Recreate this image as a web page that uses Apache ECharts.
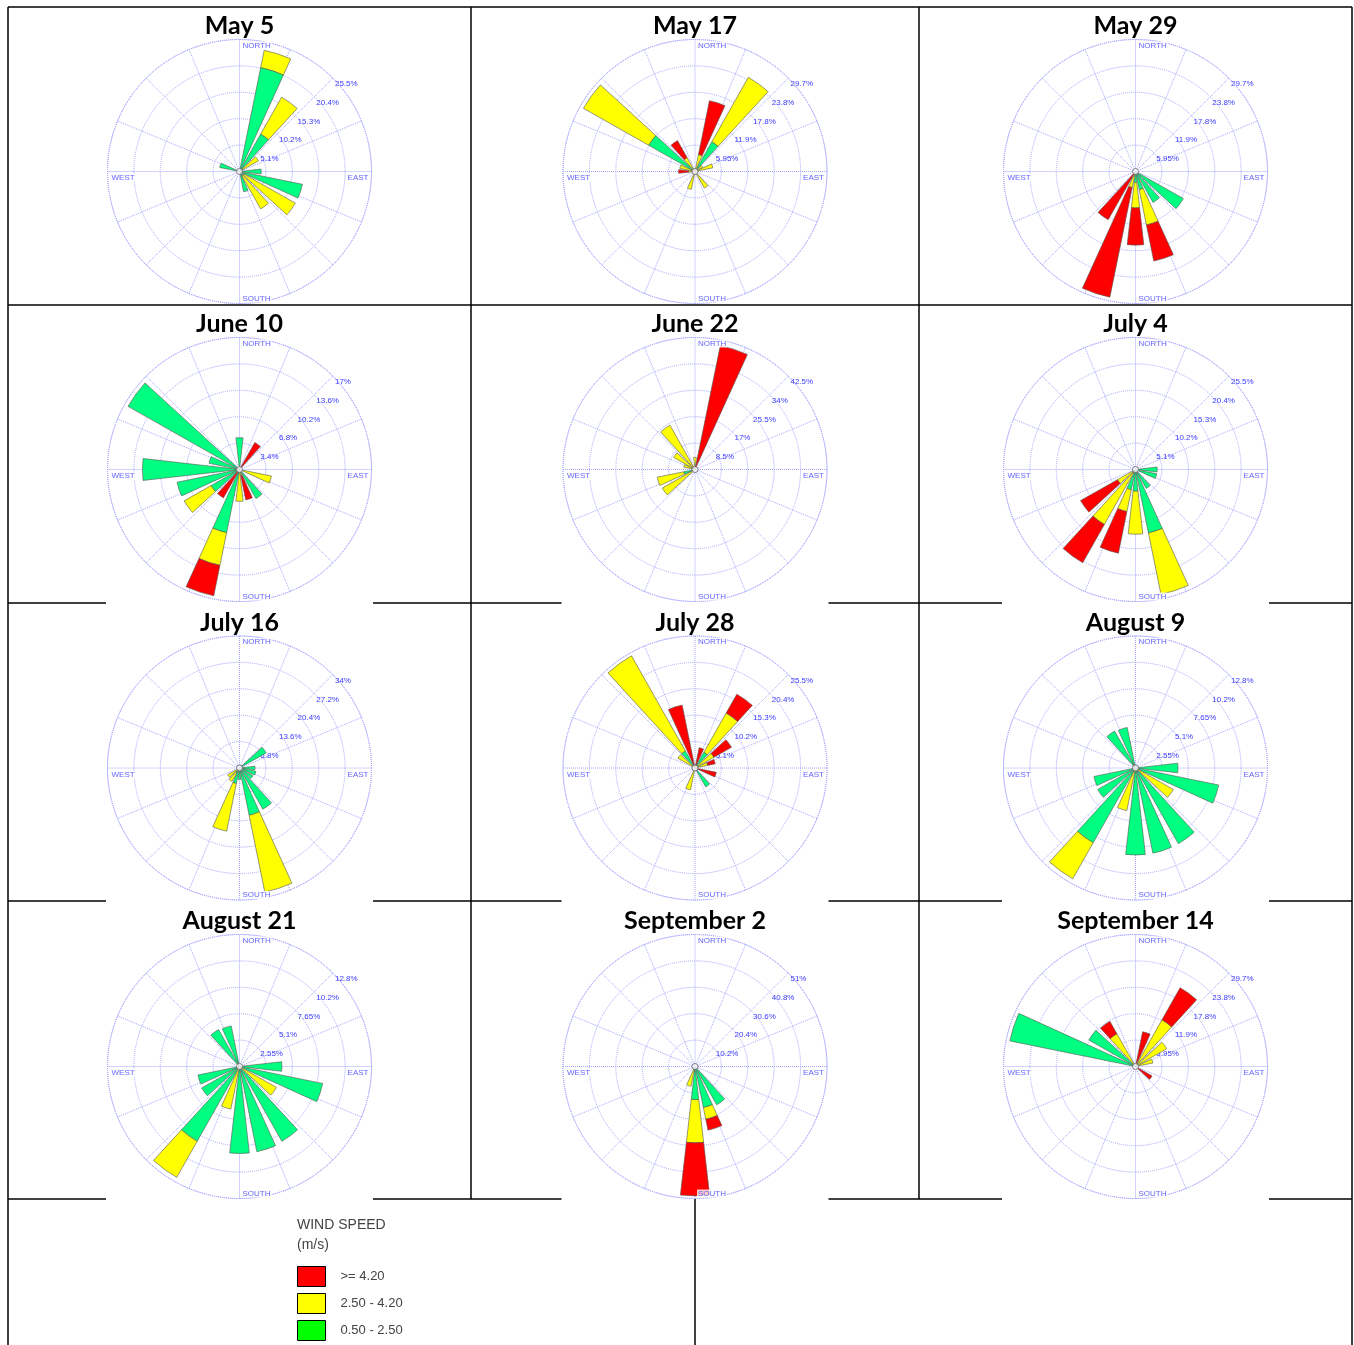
<!DOCTYPE html>
<html>
<head>
<meta charset="utf-8">
<script src="https://cdn.jsdelivr.net/npm/echarts@6/dist/echarts.min.js"></script>
<style>
  html, body { margin: 0; padding: 0; background: #fff; }
  #chart { width: 1354px; height: 1345px; }
</style>
</head>
<body>
<div id="chart"></div>
<script>
// 20 direction bins, 18 degrees apart, clockwise from north
const dirs = ['0', '18', '36', '54', '72', '90', '108', '126', '144', '162',
  '180', '198', '216', '234', '252', '270', '288', '306', '324', '342']

const speedNames = ['0.50 - 2.50', '2.50 - 4.20', '>= 4.20']

// % frequency per bin: low = 0.50-2.50, mid = 2.50-4.20, high = >= 4.20
const may5Low = [0, 20.5, 8.3, 0.8, 0, 4.2, 12.4, 1.0, 1.0, 4.0, 0, 0, 0, 0, 0, 0, 3.9, 0, 0, 0]
const may5Mid = [0, 3.4, 8.2, 3.4, 0, 0, 0, 11.4, 7.3, 0, 0, 0, 0, 0, 0, 0, 0, 0, 0, 0]
const may5High = [0, 0, 0, 0, 0, 0, 0, 0, 0, 0, 0, 0, 0, 0, 0, 0, 0, 0, 0, 0]

const may17Low = [0, 0.5, 7.7, 0, 0, 0, 0, 0, 0, 0, 0, 0, 0, 0, 0, 0, 0, 12.0, 0, 0]
const may17Mid = [0, 3.4, 16.7, 2.0, 4.1, 0, 0, 0, 4.3, 0, 0, 4.1, 0, 0, 0, 1.5, 3.5, 16.9, 3.6, 0]
const may17High = [0, 12.4, 0, 0, 0, 0, 0, 0, 0, 0, 0, 0, 0, 0, 0, 2.2, 0, 0, 4.4, 0]

const may29Low = [0, 0, 0, 0, 0, 0, 0, 12.4, 8.0, 4.2, 2.5, 0.5, 0, 0, 0, 0, 0, 0, 0, 0]
const may29Mid = [0, 0, 0, 0, 0, 0, 0, 0, 0, 8.1, 5.7, 3.2, 0.5, 0, 0, 0, 0, 0, 0, 0]
const may29High = [0, 0, 0, 0, 0, 0, 0, 0, 0, 8.3, 8.4, 25.2, 12.0, 0, 0, 0, 0, 0, 0, 0]

const jun10Low = [4.1, 0, 0, 0, 0, 0, 0, 0, 4.3, 0, 0, 8.3, 0, 4.2, 8.2, 12.5, 4.0, 16.5, 0, 0]
const jun10Mid = [0, 0, 0, 0, 0, 0, 4.2, 0, 0, 0.8, 4.1, 4.3, 0, 4.0, 0, 0, 0, 0, 0, 0]
const jun10High = [0, 0, 4.0, 0, 0, 0, 0, 0, 0, 3.2, 0, 4.0, 4.2, 0, 0, 0, 0, 0, 0, 0]

const jun22Low = [0, 0, 0, 0, 0, 0, 0, 0, 0, 0, 0, 0, 0, 0, 3.7, 0, 0, 0, 0, 0]
const jun22Mid = [3.9, 0, 0, 0, 0, 0, 0, 0, 0, 0, 0, 0, 0, 12.1, 8.7, 0, 3.7, 7.9, 16.4, 0]
const jun22High = [0, 40.7, 0, 0, 0, 0, 0, 0, 0, 0, 0, 0, 0, 0, 0, 0, 0, 0, 0, 0]

const jul4Low = [0, 0, 0, 0, 0, 4.2, 4.2, 0, 4.2, 12.5, 4.2, 4.0, 0.8, 0, 0, 0, 0, 0, 0, 0]
const jul4Mid = [0, 0, 0, 0, 0, 0, 0, 0, 0, 12.1, 8.3, 4.3, 11.4, 4.0, 0, 0, 0, 0, 0, 0]
const jul4High = [0, 0, 0, 0, 0, 0, 0, 0, 0, 0, 0, 8.2, 8.5, 8.2, 0, 0, 0, 0, 0, 0]

const jul16Low = [0, 0, 0, 7.9, 0, 4.0, 4.3, 4.0, 12.2, 12.4, 3.0, 4.1, 1.5, 0, 0, 0, 0, 0, 0, 0]
const jul16Mid = [0, 0, 0, 0, 0, 0, 0, 0, 0, 20.2, 0, 12.5, 2.5, 3.5, 0, 0, 0, 0, 0, 0]
const jul16High = [0, 0, 0, 0, 0, 0, 0, 0, 0, 0, 0, 0, 0, 0, 0, 0, 0, 0, 0, 0]

const jul28Low = [0, 0, 3.5, 0, 0, 0, 0, 0, 4.2, 0, 0, 0, 0, 0, 0, 0, 0, 0, 3.8, 0]
const jul28Mid = [0, 0, 8.7, 4.2, 2.5, 0, 0, 0, 0, 0, 0, 4.3, 0, 0, 0, 0, 0, 3.8, 21.1, 0]
const jul28High = [0, 4.0, 4.2, 3.9, 1.5, 0, 4.2, 0, 0, 0, 0, 0, 0, 0, 0, 0, 0, 0, 0, 12.4]

const aug9Low = [0, 0, 0, 0, 0, 4.1, 8.2, 0, 8.4, 8.4, 8.4, 0, 8.3, 4.2, 4.1, 0, 0, 0, 4.1, 4.0]
const aug9Mid = [0, 0, 0, 0, 0, 0, 0, 4.2, 0, 0, 0, 4.2, 4.0, 0, 0, 0, 0, 0, 0, 0]
const aug9High = [0, 0, 0, 0, 0, 0, 0, 0, 0, 0, 0, 0, 0, 0, 0, 0, 0, 0, 0, 0]

const aug21Low = [0, 0, 0, 0, 0, 4.1, 8.2, 0, 8.3, 8.4, 8.4, 0, 8.3, 4.2, 4.1, 0, 0, 0, 4.1, 4.0]
const aug21Mid = [0, 0, 0, 0, 0, 0, 0, 4.1, 0, 0, 0, 4.2, 4.0, 0, 0, 0, 0, 0, 0, 0]
const aug21High = [0, 0, 0, 0, 0, 0, 0, 0, 0, 0, 0, 0, 0, 0, 0, 0, 0, 0, 0, 0]

const sep2Low = [0, 0, 0, 0, 0, 0, 0, 0, 17.0, 16.2, 12.8, 1.5, 0, 0, 0, 0, 0, 0, 0, 0]
const sep2Mid = [0, 0, 0, 0, 0, 0, 0, 0, 0, 4.6, 16.7, 6.3, 0, 0, 0, 0, 0, 0, 0, 0]
const sep2High = [0, 0, 0, 0, 0, 0, 0, 0, 0, 4.3, 20.5, 0, 0, 0, 0, 0, 0, 0, 0, 0]

const sep14Low = [0, 0, 0, 0, 0, 0, 0, 0, 0, 0, 0, 0, 0, 0, 0, 0, 28.9, 12.1, 0, 0]
const sep14Mid = [0, 0, 12.1, 8.1, 4.0, 0, 0, 0, 0, 0, 0, 0, 0, 0, 0, 0, 0, 0, 8.5, 0]
const sep14High = [0, 8.0, 8.3, 0, 0, 0, 0, 4.3, 0, 0, 0, 0, 0, 0, 0, 0, 0, 0, 3.2, 0]

// ring tick labels (outer ring = last value)
const rings5 = ['5.1%', '10.2%', '15.3%', '20.4%', '25.5%']
const rings595 = ['5.95%', '11.9%', '17.8%', '23.8%', '29.7%']
const rings34 = ['3.4%', '6.8%', '10.2%', '13.6%', '17%']
const rings85 = ['8.5%', '17%', '25.5%', '34%', '42.5%']
const rings68 = ['6.8%', '13.6%', '20.4%', '27.2%', '34%']
const rings255 = ['2.55%', '5.1%', '7.65%', '10.2%', '12.8%']
const rings102 = ['10.2%', '20.4%', '30.6%', '40.8%', '51%']

const compassNames = ['NORTH', 'EAST', 'SOUTH', 'WEST']
const compassDirs = ['0', '90', '180', '270']

const titles = ['May 5', 'May 17', 'May 29', 'June 10', 'June 22', 'July 4',
  'July 16', 'July 28', 'August 9', 'August 21', 'September 2', 'September 14']
const ringMax = [25.5, 29.75, 29.75, 17, 42.5, 25.5, 34, 25.5, 12.75, 12.75, 51, 29.75]
const ringLabels = [rings5, rings595, rings595, rings34, rings85, rings5,
  rings68, rings5, rings255, rings255, rings102, rings595]
const lows = [may5Low, may17Low, may29Low, jun10Low, jun22Low, jul4Low,
  jul16Low, jul28Low, aug9Low, aug21Low, sep2Low, sep14Low]
const mids = [may5Mid, may17Mid, may29Mid, jun10Mid, jun22Mid, jul4Mid,
  jul16Mid, jul28Mid, aug9Mid, aug21Mid, sep2Mid, sep14Mid]
const highs = [may5High, may17High, may29High, jun10High, jun22High, jul4High,
  jul16High, jul28High, aug9High, aug21High, sep2High, sep14High]

// layout
const colX = [239.5, 695, 1135.5]
const rowY = [171.5, 469.5, 768, 1066.5]
const R = 132
const gridColor = '#a4a4ff'
const labelColor = '#3a3aff'
const colors = ['#00ff80', '#ffff00', '#ff0000']
const smallFont = '"Liberation Sans", Arial, sans-serif'

// where each compass word sits relative to its point on the outer ring
const compassLabel = {
  NORTH: { align: 'left', verticalAlign: 'top', offset: [2, 2] },
  EAST: { align: 'right', verticalAlign: 'top', offset: [-2, 2.5] },
  SOUTH: { align: 'left', verticalAlign: 'bottom', offset: [2, -1] },
  WEST: { align: 'left', verticalAlign: 'top', offset: [3, 2.5] },
}

function buildOption() {
  const polar = []
  const angleAxis = []
  const radiusAxis = []
  const series = []
  const title = []
  const graphic = []

  titles.forEach((t, k) => {
    const cx = colX[k % 3]
    const cy = rowY[Math.floor(k / 3)]
    const max = ringMax[k]
    const step = max / 5
    const labels = ringLabels[k]

    // grid polar (rings + 22.5 deg spokes), then bar polar
    polar.push({ center: [cx, cy], radius: R })
    polar.push({ center: [cx, cy], radius: R })

    angleAxis.push({
      polarIndex: 2 * k,
      type: 'value', min: 0, max: 360, interval: 22.5,
      startAngle: 45, clockwise: true,
      axisLine: { show: true, lineStyle: { color: gridColor, type: 'dotted', width: 1 } },
      axisTick: { show: false },
      axisLabel: { show: false },
      splitLine: { show: true, lineStyle: { color: gridColor, type: 'dotted', width: 1 } },
    })
    angleAxis.push({
      polarIndex: 2 * k + 1,
      type: 'category', data: dirs,
      startAngle: 99, clockwise: true,
      axisLine: { show: false }, axisTick: { show: false },
      axisLabel: { show: false }, splitLine: { show: false },
    })
    radiusAxis.push({
      polarIndex: 2 * k,
      type: 'value', min: 0, max: max, interval: step,
      axisLine: { show: false }, axisTick: { show: false },
      splitLine: { show: true, lineStyle: { color: gridColor, type: 'dotted', width: 1 } },
      axisLabel: {
        formatter: (v) => {
          const i = Math.round(v / step)
          return i > 0 ? labels[i - 1] : ''
        },
        margin: -3,
        align: 'left',
        verticalAlign: 'top',
        color: labelColor,
        fontSize: 8,
        fontFamily: smallFont,
      },
    })
    radiusAxis.push({
      polarIndex: 2 * k + 1,
      type: 'value', min: 0, max: max,
      axisLine: { show: false }, axisTick: { show: false },
      axisLabel: { show: false }, splitLine: { show: false },
    })

    const stacks = [lows[k], mids[k], highs[k]]
    stacks.forEach((arr, s) => {
      series.push({
        name: speedNames[s],
        type: 'bar',
        coordinateSystem: 'polar',
        polarIndex: 2 * k + 1,
        stack: 'rose' + k,
        barCategoryGap: '28%',
        data: arr.map((v) => (v > 0 ? v : null)),
        itemStyle: { color: colors[s], borderColor: '#555', borderWidth: 0.6 },
        silent: true,
        z: 2,
      })
    })
    // hollow dot at the centre
    series.push({
      type: 'scatter',
      coordinateSystem: 'polar',
      polarIndex: 2 * k,
      data: [[0, 0]],
      symbolSize: 6,
      itemStyle: { color: '#fff', borderColor: '#666', borderWidth: 1 },
      silent: true,
      z: 5,
    })
    // compass words on the outer ring, drawn above the bars
    series.push({
      type: 'scatter',
      coordinateSystem: 'polar',
      polarIndex: 2 * k + 1,
      data: compassNames.map((n, i) => ({
        name: n,
        value: [max, compassDirs[i]],
        label: compassLabel[n],
      })),
      symbolSize: 0,
      silent: true,
      z: 8,
      label: {
        show: true,
        position: 'inside',
        formatter: '{b}',
        color: labelColor,
        fontSize: 8,
        fontFamily: smallFont,
        backgroundColor: '#fff',
        padding: [0, 1, 0, 1],
      },
    })

    title.push({
      text: t,
      left: cx,
      top: cy - 158,
      textAlign: 'center',
      padding: 0,
      textStyle: { fontSize: 25, fontWeight: 'bold', color: '#000', fontFamily: 'Lato, "Liberation Sans", sans-serif' },
    })
  })

  // table borders
  const lw = 1.5
  const line = (x1, y1, x2, y2) => graphic.push({
    type: 'line', silent: true,
    shape: { x1, y1, x2, y2 },
    style: { stroke: '#000', lineWidth: lw },
  })
  line(8, 7, 1352, 7)
  line(8, 7, 8, 1345)
  line(1352, 7, 1352, 1345)
  line(471, 7, 471, 1199)
  line(919, 7, 919, 1199)
  line(695, 1199, 695, 1345)
  line(8, 305, 1352, 305)
  const gapHalf = 133.5
  ;[603, 901, 1199].forEach((y) => {
    line(8, y, colX[0] - gapHalf, y)
    line(colX[0] + gapHalf, y, colX[1] - gapHalf, y)
    line(colX[1] + gapHalf, y, colX[2] - gapHalf, y)
    line(colX[2] + gapHalf, y, 1352, y)
  })

  title.push({
    text: 'WIND SPEED\n(m/s)',
    left: 297, top: 1215, padding: 0,
    textStyle: { fontSize: 14, fontWeight: 'normal', color: '#444', lineHeight: 20, fontFamily: smallFont },
  })

  return {
    animation: false,
    backgroundColor: '#fff',
    title,
    legend: {
      orient: 'vertical',
      left: 297,
      top: 1266,
      padding: 0,
      itemWidth: 28,
      itemHeight: 20,
      itemGap: 6,
      icon: 'rect',
      selectedMode: false,
      data: [
        { name: '>= 4.20', itemStyle: { color: '#ff0000', borderColor: '#000', borderWidth: 1 } },
        { name: '2.50 - 4.20', itemStyle: { color: '#ffff00', borderColor: '#000', borderWidth: 1 } },
        { name: '0.50 - 2.50', itemStyle: { color: '#00ff00', borderColor: '#000', borderWidth: 1 } },
      ],
      textStyle: { fontSize: 13, color: '#444', fontFamily: smallFont, padding: [0, 0, 0, 10] },
    },
    polar,
    angleAxis,
    radiusAxis,
    series,
    graphic,
  }
}

const chart = echarts.init(document.getElementById('chart'))
chart.setOption(buildOption())
</script>
</body>
</html>
